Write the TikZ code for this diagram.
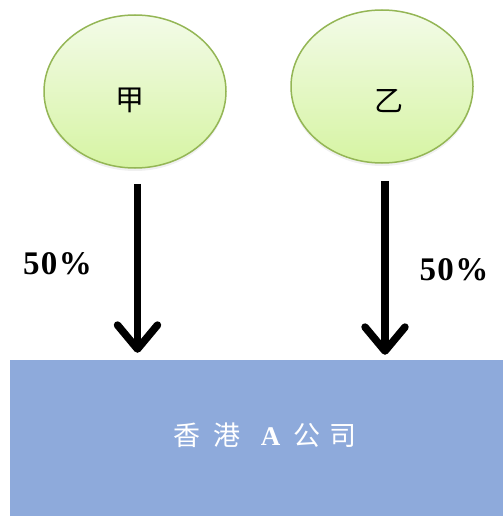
\documentclass[tikz,border=0pt]{standalone}
\usepackage{fontspec}
\setmainfont{Liberation Serif}
\newfontfamily\cjk{Noto Sans CJK SC}
\usetikzlibrary{arrows.meta,shapes.geometric,shadows}

\definecolor{leafline}{HTML}{94B655}
\definecolor{leaftop}{HTML}{F3FBE8}
\definecolor{leafbot}{HTML}{D6F4A3}
\definecolor{hkblue}{HTML}{8EAADB}

\begin{document}
\begin{tikzpicture}
        [x=1pt,y=-1pt,
         owner/.style={draw=leafline,shape=ellipse,line width=1.5pt,top color=leaftop,bottom color=leafbot,minimum width=182pt,minimum height=153pt,inner sep=0,drop shadow={opacity=0.12,shadow xshift=0pt,shadow yshift=-3pt}},
         ownername/.style={font=\cjk\fontsize{29}{34}\selectfont,inner sep=0},
         share/.style={font=\bfseries\fontsize{33}{38}\selectfont,inner sep=0},
         company/.style={fill=hkblue,draw=none,minimum width=493pt,minimum height=156pt,inner sep=0},
         stake/.style={line width=7.5pt,-{Straight Barb[length=24pt,width=40pt,round]}}]

        \useasboundingbox (0,0) rectangle (503,516);

        \node[owner] (ja) at (135, 91.5) {};
        \node[owner] (yi) at (382, 86.5) {};
        \node[ownername] (janame) at (130, 100) {甲};
        \node[ownername] (yiname) at (389, 101.5) {乙};

        \node[company] (hk) at (256.5, 438) {};
        \node[inner sep=0,text=white,font=\fontsize{27}{32}\selectfont] (hkname) at (265, 435)
          {{\cjk 香\hspace{13pt}港}\hspace{20pt}\textbf{A}\hspace{13pt}{\cjk 公\hspace{9pt}司}};

        \draw[stake,shorten <=15pt,shorten >=7pt] ([xshift=2.5pt]ja.south) -- ([xshift=2.5pt]ja.south |- hk.north);
        \draw[stake,shorten <=17pt,shorten >=5pt] ([xshift=3pt]yi.south) -- ([xshift=3pt]yi.south |- hk.north);

        \node[share] (jashare) at (57.5, 264) {5\hspace{1.5pt}0\hspace{1.5pt}\%};
        \node[share] (yishare) at (454, 270) {5\hspace{1.5pt}0\hspace{1.5pt}\%};

      \end{tikzpicture}
\end{document}
